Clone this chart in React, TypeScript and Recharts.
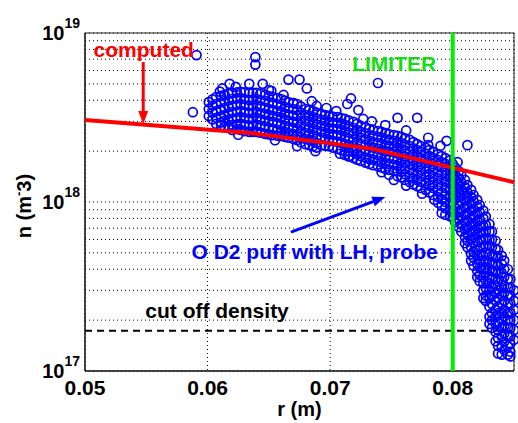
import React from 'react';
import {
  ComposedChart,
  XAxis,
  YAxis,
  CartesianGrid,
  Scatter,
  Line,
  ReferenceLine,
  ReferenceDot,
  ReferenceArea,
  Label,
} from 'recharts';

// ---------- data ----------
const xTicks = [0.05, 0.06, 0.07, 0.08];
const yTicks = [
  1e17, 2e17, 3e17, 4e17, 5e17, 6e17, 7e17, 8e17, 9e17,
  1e18, 2e18, 3e18, 4e18, 5e18, 6e18, 7e18, 8e18, 9e18, 1e19,
];
const yDecades = [1e17, 1e18, 1e19];

const computedR = [0.05, 0.0635, 0.0734, 0.085];
const computedN = [3.06e18, 2.56e18, 2.07e18, 1.31e18];

const limiterR = 0.08;
const cutoffN = 1.73e17;

// probe measurements, grouped by radius column: [r, densities]
const probeCols: [number, number[]][] = [
  [0.0601, [3.9e18, 3.55e18, 3.23e18]],
  [0.0607, [4.18e18, 3.8e18, 3.45e18, 3.15e18, 2.9e18]],
  [0.0614, [4.3e18, 3.96e18, 3.6e18, 3.27e18, 3.02e18, 2.78e18]],
  [0.062, [4.42e18, 4.07e18, 3.7e18, 3.4e18, 3.1e18, 2.86e18, 2.67e18]],
  [0.0627, [4.48e18, 4.12e18, 3.8e18, 3.45e18, 3.18e18, 2.9e18, 2.67e18]],
  [0.0634, [4.42e18, 4.01e18, 3.7e18, 3.36e18, 3.1e18, 2.82e18, 2.6e18]],
  [0.064, [4.42e18, 4.07e18, 3.75e18, 3.4e18, 3.15e18, 2.86e18, 2.6e18]],
  [0.0647, [4.3e18, 3.96e18, 3.6e18, 3.31e18, 3.02e18, 2.78e18, 2.53e18]],
  [0.0653, [4.18e18, 3.85e18, 3.5e18, 3.23e18, 2.98e18, 2.71e18, 2.49e18]],
  [0.066, [4.07e18, 3.7e18, 3.4e18, 3.15e18, 2.86e18, 2.63e18, 2.46e18]],
  [0.0666, [3.9e18, 3.6e18, 3.27e18, 3.02e18, 2.78e18, 2.56e18, 2.4e18]],
  [0.0673, [3.8e18, 3.5e18, 3.23e18, 2.94e18, 2.71e18, 2.49e18, 2.33e18]],
  [0.068, [3.55e18, 3.27e18, 3.02e18, 2.78e18, 2.56e18, 2.36e18, 2.2e18]],
  [0.0686, [3.45e18, 3.18e18, 2.94e18, 2.71e18, 2.49e18, 2.3e18, 2.14e18]],
  [0.0693, [3.31e18, 3.06e18, 2.82e18, 2.6e18, 2.4e18, 2.17e18]],
  [0.0699, [3.23e18, 2.98e18, 2.74e18, 2.53e18, 2.33e18, 2.14e18]],
  [0.0706, [3.18e18, 2.94e18, 2.71e18, 2.49e18, 2.27e18, 2.06e18]],
  [0.0712, [3.1e18, 2.86e18, 2.63e18, 2.43e18, 2.2e18, 2.0e18, 1.9e18]],
  [0.0719, [2.98e18, 2.74e18, 2.53e18, 2.33e18, 2.14e18, 1.98e18, 1.82e18]],
  [0.0725, [2.82e18, 2.6e18, 2.4e18, 2.2e18, 2.03e18, 1.87e18, 1.75e18]],
  [0.0732, [2.71e18, 2.49e18, 2.3e18, 2.14e18, 1.98e18, 1.8e18, 1.68e18]],
  [0.0739, [2.63e18, 2.43e18, 2.23e18, 2.06e18, 1.9e18, 1.75e18, 1.63e18]],
  [0.0745, [2.56e18, 2.36e18, 2.17e18, 2.0e18, 1.85e18, 1.7e18, 1.57e18]],
  [0.0752, [2.49e18, 2.3e18, 2.14e18, 1.98e18, 1.8e18, 1.66e18, 1.53e18]],
  [0.0758, [2.43e18, 2.23e18, 2.06e18, 1.9e18, 1.75e18, 1.63e18, 1.51e18, 1.4e18]],
  [0.0765, [2.33e18, 2.14e18, 1.98e18, 1.82e18, 1.68e18, 1.55e18, 1.42e18, 1.31e18]],
  [0.0771, [2.2e18, 2.03e18, 1.87e18, 1.72e18, 1.6e18, 1.46e18, 1.35e18, 1.24e18]],
  [0.0778, [2.09e18, 1.93e18, 1.77e18, 1.63e18, 1.51e18, 1.4e18, 1.29e18, 1.18e18]],
  [0.0784, [1.98e18, 1.82e18, 1.68e18, 1.55e18, 1.42e18, 1.31e18, 1.21e18, 1.1e18]],
  [0.0791, [1.87e18, 1.72e18, 1.6e18, 1.46e18, 1.35e18, 1.24e18, 1.14e18, 1.04e18, 9.5e17, 8.6e17]],
  [0.0798, [1.77e18, 1.63e18, 1.51e18, 1.4e18, 1.29e18, 1.18e18, 1.07e18, 9.7e17, 8.9e17, 8.2e17]],
  [0.0802, [1.6e18, 1.46e18, 1.35e18, 1.23e18, 1.13e18, 1.04e18, 9.2e17, 8.4e17, 7.6e17]],
  [0.0807, [1.44e18, 1.31e18, 1.19e18, 1.09e18, 1.01e18, 9.0e17, 8.2e17, 7.4e17, 6.7e17]],
  [0.0812, [1.26e18, 1.14e18, 1.06e18, 9.5e17, 8.6e17, 7.8e17, 7.1e17, 6.5e17, 5.9e17, 5.4e17]],
  [0.0817, [1.1e18, 1.01e18, 9.1e17, 8.3e17, 7.5e17, 6.8e17, 6.2e17, 5.7e17, 5.1e17, 4.7e17, 4.2e17]],
  [0.0822, [9.6e17, 8.7e17, 7.9e17, 7.2e17, 6.6e17, 6.0e17, 5.4e17, 4.9e17, 4.5e17, 4.1e17, 3.7e17, 3.4e17]],
  [0.0827, [8.2e17, 7.3e17, 6.7e17, 6.1e17, 5.5e17, 5.0e17, 4.5e17, 4.1e17, 3.8e17, 3.4e17, 3.1e17, 2.8e17, 2.6e17]],
  [0.0832, [6.7e17, 6.0e17, 5.4e17, 4.8e17, 4.3e17, 3.9e17, 3.5e17, 3.1e17, 2.8e17, 2.5e17, 2.2e17, 2.0e17, 1.8e17]],
  [0.0837, [5.2e17, 4.7e17, 4.2e17, 3.8e17, 3.4e17, 3.0e17, 2.7e17, 2.4e17, 2.2e17, 1.95e17, 1.75e17, 1.57e17, 1.41e17, 1.27e17]],
  [0.0842, [4.5e17, 4.0e17, 3.6e17, 3.2e17, 2.9e17, 2.6e17, 2.3e17, 2.1e17, 1.85e17, 1.66e17, 1.49e17, 1.33e17]],
  [0.0847, [3.5e17, 3.1e17, 2.8e17, 2.5e17, 2.2e17, 2.0e17, 1.8e17, 1.6e17, 1.45e17, 1.3e17, 1.22e17]],
  [0.085, [3.0e17, 2.6e17, 2.3e17, 2.0e17, 1.75e17, 1.53e17]],
];

// second set of probe columns, read between the ones above
const probeColsB: [number, number[]][] = [
  [0.0604, [4.05e18, 3.72e18, 3.38e18, 3.08e18]],
  [0.0611, [4.25e18, 3.88e18, 3.52e18, 3.21e18, 2.96e18, 2.84e18]],
  [0.0617, [4.36e18, 4.0e18, 3.65e18, 3.33e18, 3.06e18, 2.82e18]],
  [0.0624, [4.45e18, 4.1e18, 3.75e18, 3.42e18, 3.14e18, 2.88e18, 2.7e18]],
  [0.063, [4.45e18, 4.07e18, 3.75e18, 3.4e18, 3.14e18, 2.86e18, 2.63e18]],
  [0.0637, [4.42e18, 4.04e18, 3.72e18, 3.38e18, 3.12e18, 2.84e18, 2.6e18]],
  [0.0643, [4.36e18, 4.01e18, 3.68e18, 3.36e18, 3.08e18, 2.82e18, 2.57e18]],
  [0.065, [4.24e18, 3.9e18, 3.55e18, 3.27e18, 3.0e18, 2.74e18, 2.51e18]],
  [0.0657, [4.12e18, 3.78e18, 3.45e18, 3.19e18, 2.92e18, 2.67e18, 2.47e18]],
  [0.0663, [3.98e18, 3.65e18, 3.33e18, 3.08e18, 2.82e18, 2.6e18, 2.43e18]],
  [0.067, [3.85e18, 3.55e18, 3.25e18, 2.98e18, 2.74e18, 2.52e18, 2.36e18]],
  [0.0676, [3.68e18, 3.38e18, 3.12e18, 2.86e18, 2.63e18, 2.42e18, 2.26e18]],
  [0.0683, [3.5e18, 3.22e18, 2.98e18, 2.74e18, 2.52e18, 2.33e18, 2.17e18]],
  [0.0689, [3.38e18, 3.12e18, 2.88e18, 2.65e18, 2.44e18, 2.24e18, 2.1e18]],
  [0.0696, [3.27e18, 3.02e18, 2.78e18, 2.56e18, 2.36e18, 2.15e18]],
  [0.0702, [3.2e18, 2.96e18, 2.72e18, 2.51e18, 2.3e18, 2.1e18]],
  [0.0709, [3.14e18, 2.9e18, 2.67e18, 2.46e18, 2.24e18, 2.03e18]],
  [0.0715, [3.04e18, 2.8e18, 2.58e18, 2.38e18, 2.17e18, 1.99e18, 1.86e18]],
  [0.0722, [2.9e18, 2.67e18, 2.46e18, 2.26e18, 2.08e18, 1.92e18, 1.78e18]],
  [0.0729, [2.76e18, 2.55e18, 2.35e18, 2.17e18, 2.0e18, 1.83e18, 1.71e18]],
  [0.0735, [2.67e18, 2.46e18, 2.26e18, 2.1e18, 1.94e18, 1.78e18, 1.65e18]],
  [0.0742, [2.6e18, 2.4e18, 2.2e18, 2.03e18, 1.87e18, 1.72e18, 1.6e18]],
  [0.0748, [2.52e18, 2.33e18, 2.15e18, 1.99e18, 1.82e18, 1.68e18, 1.55e18, 1.45e18]],
  [0.0755, [2.46e18, 2.26e18, 2.1e18, 1.94e18, 1.78e18, 1.64e18, 1.52e18, 1.42e18]],
  [0.0761, [2.38e18, 2.18e18, 2.02e18, 1.86e18, 1.72e18, 1.59e18, 1.46e18, 1.35e18]],
  [0.0768, [2.26e18, 2.08e18, 1.92e18, 1.77e18, 1.64e18, 1.5e18, 1.38e18, 1.27e18]],
  [0.0774, [2.14e18, 1.98e18, 1.82e18, 1.68e18, 1.55e18, 1.43e18, 1.32e18, 1.21e18]],
  [0.0781, [2.03e18, 1.87e18, 1.72e18, 1.59e18, 1.46e18, 1.35e18, 1.25e18, 1.14e18]],
  [0.0788, [1.92e18, 1.77e18, 1.64e18, 1.5e18, 1.38e18, 1.27e18, 1.17e18, 1.07e18, 9.9e17]],
  [0.0794, [1.82e18, 1.68e18, 1.55e18, 1.43e18, 1.32e18, 1.21e18, 1.1e18, 1.0e18, 9.2e17, 8.4e17]],
  [0.08, [1.68e18, 1.55e18, 1.43e18, 1.31e18, 1.21e18, 1.1e18, 1.0e18, 9.0e17, 8.2e17]],
  [0.0805, [1.52e18, 1.38e18, 1.27e18, 1.16e18, 1.07e18, 9.7e17, 8.7e17, 7.9e17, 7.1e17]],
  [0.081, [1.35e18, 1.22e18, 1.12e18, 1.02e18, 9.3e17, 8.4e17, 7.6e17, 6.9e17, 6.2e17, 5.7e17]],
  [0.0815, [1.18e18, 1.07e18, 9.8e17, 8.9e17, 8.0e17, 7.3e17, 6.6e17, 6.0e17, 5.4e17, 4.9e17, 4.5e17]],
  [0.082, [1.03e18, 9.4e17, 8.5e17, 7.7e17, 7.0e17, 6.4e17, 5.8e17, 5.2e17, 4.8e17, 4.3e17, 3.9e17, 3.6e17]],
  [0.0825, [8.9e17, 8.0e17, 7.2e17, 6.6e17, 6.0e17, 5.4e17, 4.8e17, 4.4e17, 4.0e17, 3.6e17, 3.3e17, 3.0e17, 2.7e17]],
  [0.083, [7.4e17, 6.7e17, 6.0e17, 5.5e17, 4.9e17, 4.4e17, 4.0e17, 3.6e17, 3.3e17, 3.0e17, 2.7e17, 2.4e17, 2.1e17, 1.9e17]],
  [0.0835, [5.9e17, 5.3e17, 4.8e17, 4.3e17, 3.9e17, 3.5e17, 3.2e17, 2.9e17, 2.6e17, 2.3e17, 2.1e17, 1.9e17, 1.7e17, 1.5e17]],
  [0.084, [4.8e17, 4.3e17, 3.8e17, 3.4e17, 3.1e17, 2.8e17, 2.5e17, 2.2e17, 2.0e17, 1.8e17, 1.6e17, 1.4e17, 1.25e17]],
  [0.0845, [4.0e17, 3.5e17, 3.1e17, 2.8e17, 2.5e17, 2.2e17, 2.0e17, 1.8e17, 1.6e17, 1.4e17, 1.25e17]],
];

// isolated probe points outside / on the ragged edges of the dense band: [r, n]
const probeOutliers: [number, number][] = [
  [0.0591, 7.4e18], [0.0588, 3.4e18], [0.0639, 7.2e18], [0.0639, 6.5e18],
  [0.0618, 5.0e18], [0.0634, 5.0e18], [0.0645, 5.0e18], [0.0666, 5.3e18],
  [0.0675, 5.3e18], [0.0681, 4.7e18], [0.067, 3.85e18], [0.0689, 3.7e18],
  [0.0714, 3.8e18], [0.0717, 4.1e18], [0.0723, 3.5e18], [0.0739, 5.06e18],
  [0.0734, 3.0e18], [0.0755, 3.15e18], [0.0771, 3.15e18], [0.078, 2.4e18],
  [0.078, 2.17e18], [0.0812, 2.17e18], [0.0752, 1.35e18], [0.0673, 2.14e18],
  [0.0716, 1.87e18], [0.0804, 1.72e18], [0.061, 4.5e18], [0.065, 4.6e18],
  [0.0705, 3.45e18],
  [0.0612, 4.7e18], [0.0623, 4.8e18], [0.0652, 4.55e18], [0.0662, 4.3e18],
  [0.0685, 3.95e18], [0.0697, 3.6e18], [0.0727, 3.1e18], [0.0745, 2.85e18],
  [0.0762, 2.65e18], [0.079, 2.15e18], [0.0795, 2.3e18],
  [0.0625, 2.5e18], [0.0655, 2.32e18], [0.0688, 2.0e18], [0.0708, 1.93e18],
  [0.0742, 1.5e18], [0.0762, 1.25e18], [0.0775, 1.12e18], [0.0785, 1.03e18],
];

// annotation anchors (data coordinates)
const computedText = { r: 0.0507, n: 7.2e18 };
const computedArrow = { r: 0.05475, nFrom: 6.73e18, nTo: 2.89e18 };
const limiterText = { r: 0.0718, n: 5.96e18 };
const probeText = { r: 0.05869, n: 4.6e17 };
const probeArrow = { rFrom: 0.0668, nFrom: 6.64e17, rTo: 0.0745, nTo: 1.07e18 };
const cutoffText = { r: 0.05492, n: 2.06e17 };

// ---------- derived tables ----------
const computedData = computedR.map((r, i) => ({ r, n: computedN[i] }));
const probeData = [
  ...probeCols.flatMap(([r, ns]) => ns.map((n) => ({ r, n }))),
  ...probeColsB.flatMap(([r, ns]) => ns.map((n) => ({ r, n }))),
  ...probeOutliers.map(([r, n]) => ({ r, n })),
];

const FONT = 'Arial, "Liberation Sans", Helvetica, sans-serif';

const isDecade = (v: number) => yDecades.some((d) => Math.abs(d - v) / d < 1e-6);

const YTick = (props: any) => {
  const { x, y, payload } = props;
  const v = payload.value as number;
  if (!isDecade(v)) return <g />;
  const exp = Math.round(Math.log10(v));
  return (
    <text x={x - 5} y={y} textAnchor="end" fontFamily={FONT} fontWeight="bold" fill="#000">
      <tspan fontSize={20} dy={7}>10</tspan>
      <tspan fontSize={14} dy={-12}>{exp}</tspan>
    </text>
  );
};

const XTick = (props: any) => {
  const { x, y, payload } = props;
  return (
    <text x={x} y={y + 24} textAnchor="middle" fontFamily={FONT} fontWeight="bold" fontSize={21} fill="#000">
      {(payload.value as number).toFixed(2)}
    </text>
  );
};

const Ring = (p: any) => (
  <circle cx={p.cx} cy={p.cy} r={4.5} fill="none" stroke="#0000ff" strokeWidth={1.7} />
);

const makeArrow = (color: string, width: number, headLen: number, headHalf: number) => (p: any) => {
  const { x1, y1, x2, y2 } = p;
  const dx = x2 - x1;
  const dy = y2 - y1;
  const len = Math.sqrt(dx * dx + dy * dy) || 1;
  const ux = dx / len;
  const uy = dy / len;
  const bx = x2 - ux * headLen;
  const by = y2 - uy * headLen;
  const px = -uy * headHalf;
  const py = ux * headHalf;
  return (
    <g>
      <line x1={x1} y1={y1} x2={bx} y2={by} stroke={color} strokeWidth={width} />
      <polygon points={`${x2},${y2} ${bx + px},${by + py} ${bx - px},${by - py}`} fill={color} />
    </g>
  );
};

const textShape = (txt: string, color: string, size: number) => (p: any) => (
  <text x={p.cx} y={p.cy} fontFamily={FONT} fontWeight="bold" fontSize={size} fill={color}>
    {txt}
  </text>
);

export default function App() {
  return (
    <div style={{ position: 'absolute', left: 0, top: 0, width: 518, height: 423, background: '#fff' }}>
      <ComposedChart
        width={518}
        height={423}
        margin={{ top: 33, right: 4, bottom: 0, left: 0 }}
      >
        <CartesianGrid stroke="#000" strokeDasharray="1 3" strokeWidth={1} />
        <XAxis
          type="number"
          dataKey="r"
          domain={[0.05, 0.085]}
          ticks={xTicks}
          height={52}
          tickSize={0}
          tickMargin={0}
          tick={<XTick />}
          axisLine={{ stroke: '#000', strokeWidth: 1 }}
          tickLine={false}
          interval={0}
        >
          <Label
            content={(p: any) => {
              const vb = p.viewBox || { x: 85, y: 371, width: 429 };
              return (
                <text
                  x={vb.x + vb.width / 2}
                  y={vb.y + 45}
                  textAnchor="middle"
                  fontFamily={FONT}
                  fontWeight="bold"
                  fontSize={20}
                  fill="#000"
                >
                  r (m)
                </text>
              );
            }}
          />
        </XAxis>
        <YAxis
          type="number"
          dataKey="n"
          scale="log"
          domain={[1e17, 1e19]}
          ticks={yTicks}
          width={85}
          tickSize={0}
          tickMargin={0}
          tick={<YTick />}
          axisLine={{ stroke: '#000', strokeWidth: 1 }}
          tickLine={false}
          interval={0}
        >
          <Label
            content={() => (
              <text
                transform="translate(31,206) rotate(-90)"
                textAnchor="middle"
                fontFamily={FONT}
                fontWeight="bold"
                fontSize={20}
                fill="#000"
              >
                n (m
                <tspan fontSize={13} dy={-8}>-</tspan>
                <tspan dy={8}>3)</tspan>
              </text>
            )}
          />
        </YAxis>
        <ReferenceArea
          x1={0.05}
          x2={0.085}
          y1={1e17}
          y2={1e19}
          fill="none"
          fillOpacity={0}
          stroke="#222"
          strokeWidth={1}
        />
        <ReferenceLine
          y={cutoffN}
          stroke="#000"
          strokeWidth={2}
          strokeDasharray="7 5"
        />
        <Scatter data={probeData} dataKey="n" shape={Ring} isAnimationActive={false} />
        <Line
          data={computedData}
          dataKey="n"
          type="linear"
          stroke="#ff0000"
          strokeWidth={4}
          dot={false}
          activeDot={false}
          isAnimationActive={false}
          zIndex={650}
        />
        <ReferenceLine x={limiterR} stroke="#00ee00" strokeWidth={4} zIndex={700} />
        <ReferenceLine
          segment={[
            { x: computedArrow.r, y: computedArrow.nFrom },
            { x: computedArrow.r, y: computedArrow.nTo },
          ]}
          shape={makeArrow('#ff0000', 3, 13, 5)}
          zIndex={700}
        />
        <ReferenceLine
          segment={[
            { x: probeArrow.rFrom, y: probeArrow.nFrom },
            { x: probeArrow.rTo, y: probeArrow.nTo },
          ]}
          shape={makeArrow('#0000ff', 3, 13, 5)}
          zIndex={700}
        />
        <ReferenceDot x={computedText.r} y={computedText.n} r={0} shape={textShape('computed', '#ff0000', 21)} zIndex={700} />
        <ReferenceDot x={limiterText.r} y={limiterText.n} r={0} shape={textShape('LIMITER', '#11dd11', 21)} zIndex={700} />
        <ReferenceDot x={probeText.r} y={probeText.n} r={0} shape={textShape('O D2 puff with LH, probe', '#0000ff', 21)} zIndex={700} />
        <ReferenceDot x={cutoffText.r} y={cutoffText.n} r={0} shape={textShape('cut off density', '#000', 21)} zIndex={700} />
      </ComposedChart>
    </div>
  );
}
